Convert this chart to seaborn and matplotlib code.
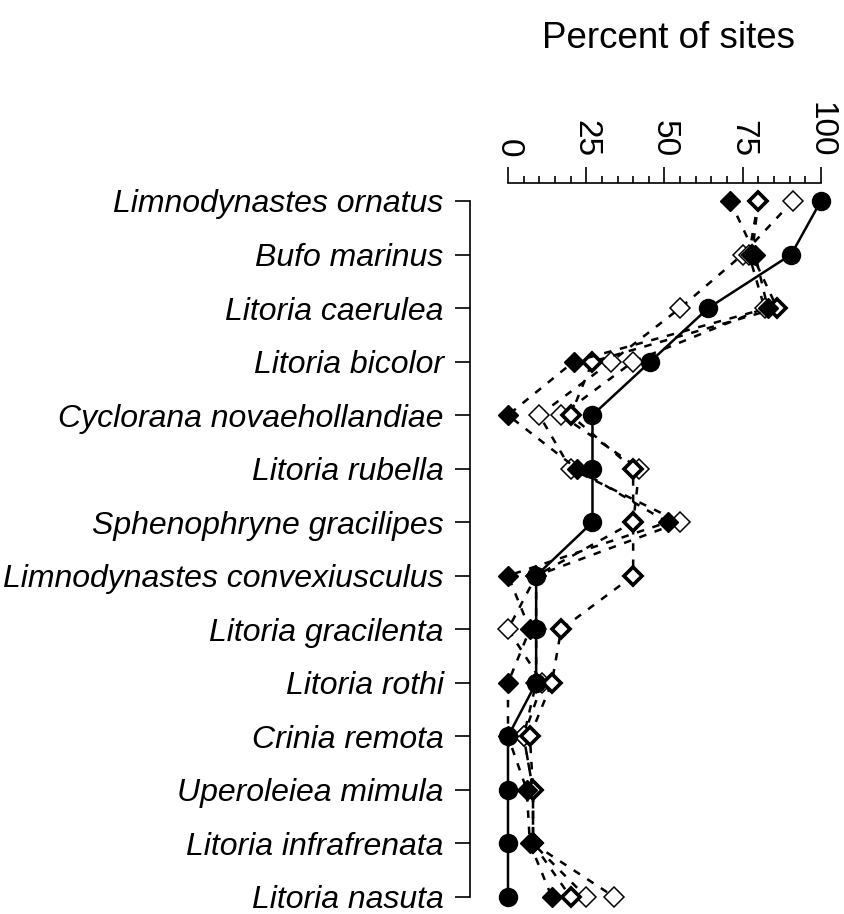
import numpy as np
import pandas as pd
import matplotlib
matplotlib.use("Agg")
import matplotlib.pyplot as plt
import seaborn as sns

species = [
    "Limnodynastes ornatus", "Bufo marinus", "Litoria caerulea", "Litoria bicolor",
    "Cyclorana novaehollandiae", "Litoria rubella", "Sphenophryne gracilipes",
    "Limnodynastes convexiusculus", "Litoria gracilenta", "Litoria rothi",
    "Crinia remota", "Uperoleiea mimula", "Litoria infrafrenata", "Litoria nasuta",
]

# percent of sites
all_sites = [100, 90.5, 64, 45.5, 27, 27, 27, 9, 9, 9, 0, 0, 0, 0]
filled_d = [71, 79, 83, 21, 0, 22, 51, 0, 7, 0, 0, 6, 7, 14]
thick_d = [80, 78, 86, 27, 20, 40, 40, 40, 17, 14, 7, 8, 8, 20]
thin_d = [80, 77, 82, 40, 17, 42, 40, 9, 9, 9, 5, 8, 8, 25]
dot_d = [91, 75, 55, 33, 10, 20, 55, 9, 0, 11, 5, 8, 8, 34]

x_ticks = [0, 25, 50, 75, 100]

sns.set_style("white")
plt.rcParams["font.family"] = ["Liberation Sans", "DejaVu Sans"]
plt.rcParams["text.color"] = "black"

rows = np.arange(len(species))

fig = plt.figure(figsize=(8.44, 9.14), dpi=100)
ax = fig.add_axes([470 / 844, 1 - 910 / 914, 370 / 844, 727 / 914])

dash = (3.0, 3.5)
common = dict(orient="y", sort=False, ax=ax, color="black",
              markeredgecolor="black", legend=False)

sns.lineplot(x=dot_d, y=rows, marker="D", markersize=10, markerfacecolor="white",
             markeredgewidth=1.1, lw=1.8, dashes=False, linestyle=(0, dash),
             zorder=2, **common)
sns.lineplot(x=thin_d, y=rows, marker="D", markersize=10, markerfacecolor="white",
             markeredgewidth=1.1, lw=1.8, dashes=False, linestyle=(0, dash),
             zorder=2, **common)
sns.lineplot(x=thick_d, y=rows, marker="D", markersize=9, markerfacecolor="white",
             markeredgewidth=2.6, lw=1.8, dashes=False, linestyle=(0, dash),
             zorder=3, **common)
sns.lineplot(x=filled_d, y=rows, marker="D", markersize=10, markerfacecolor="black",
             markeredgewidth=1.0, lw=1.8, dashes=False, linestyle=(0, dash),
             zorder=3, **common)
sns.lineplot(x=all_sites, y=rows, marker="o", markersize=14, markerfacecolor="black",
             markeredgewidth=0, lw=1.8, dashes=False, zorder=4, **common)

ax.set_xlim(-12.14, 106.1)
ax.set_ylim(13.243, -0.336)

# R-style axes: top axis 0..100, left axis only over the rows
for s in ["right", "bottom"]:
    ax.spines[s].set_visible(False)
ax.spines["top"].set_bounds(0, 100)
ax.spines["left"].set_bounds(0, len(species) - 1)
for s in ["top", "left"]:
    ax.spines[s].set_linewidth(1.2)
    ax.spines[s].set_color("black")

ax.xaxis.tick_top()
ax.set_xticks(x_ticks)
ax.set_xticks(np.arange(5, 100, 5), minor=True)
ax.set_xticklabels([str(t) for t in x_ticks], rotation=-90, fontsize=24)
ax.tick_params(axis="x", which="major", direction="out", length=11.5, width=1.2,
               pad=7, top=True, bottom=False, colors="black")
ax.tick_params(axis="x", which="minor", direction="out", length=5, width=1.2,
               top=True, bottom=False, colors="black")

ax.set_yticks(rows)
ax.set_yticklabels(species, fontsize=23, style="italic")
ax.tick_params(axis="y", direction="out", length=11, width=1.2, pad=8,
               left=True, colors="black")

ax.set_xlabel("")
ax.set_ylabel("")
ax.grid(False)

fig.text(668 / 844, 1 - 38 / 914, "Percent of sites", ha="center", va="center",
         fontsize=26.5, color="black")

fig.savefig("out.png", dpi=100)
